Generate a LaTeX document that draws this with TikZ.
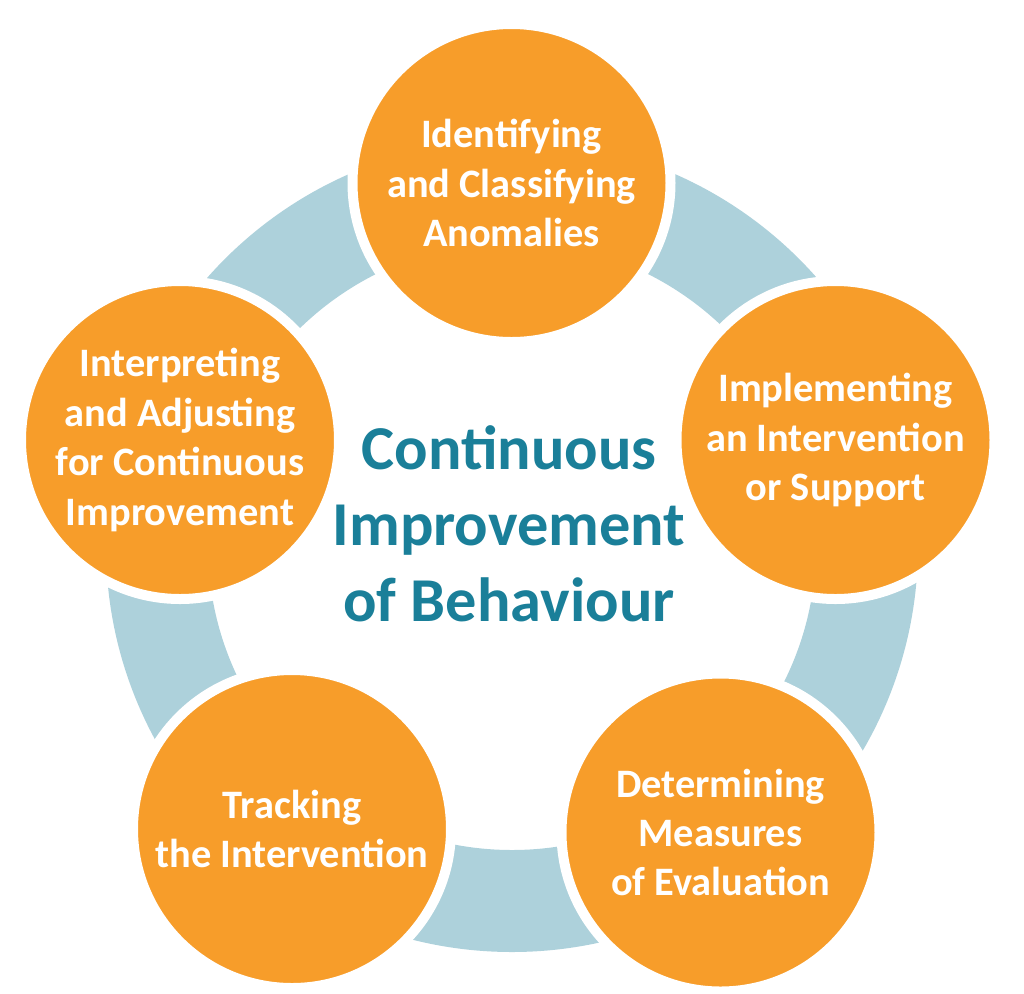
\documentclass[tikz,border=0pt]{standalone}
\usepackage{fontspec}
\setmainfont{Carlito}
\usepackage{tikz}
\definecolor{stageorange}{HTML}{F79D2A}
\definecolor{ringblue}{HTML}{ADD1DB}
\definecolor{titleteal}{HTML}{1A7F99}

\begin{document}
\begin{tikzpicture}[x=0.5pt,y=-0.5pt,
    stage/.style={circle, fill=stageorange, draw=white, line width=5pt, minimum size=159pt, inner sep=0pt},
    stagetext/.style={align=center, text=white, inner sep=0pt, font=\bfseries\fontsize{20.2pt}{24.7pt}\selectfont},
    title/.style={align=center, text=titleteal, inner sep=0pt, font=\bfseries\fontsize{31.2pt}{38pt}\selectfont}]
            \useasboundingbox (0,0) rectangle (1024,993);
            \coordinate (mid) at (512,546);
            \draw[ringblue, line width=51pt] (mid) circle[radius=177.5pt];
            \node[stage] (ident) at (511.5,183) {};
            \node[stage] (impl) at (835.5,440) {};
            \node[stage] (meas) at (720.5,832.5) {};
            \node[stage] (track) at (292,829) {};
            \node[stage] (interp) at (180,440) {};
            \node[stagetext] (ident-t) at (ident) {Identifying\\and Classifying\\Anomalies};
            \node[stagetext] (impl-t) at (impl) {Implementing\\an Intervention\\or Support};
            \node[stagetext] (meas-t) at (meas) {Determining\\Measures\\of Evaluation};
            \node[stagetext] (track-t) at (track) {Tracking\\the Intervention};
            \node[stagetext] (interp-t) at (interp) {Interpreting\\and Adjusting\\for Continuous\\Improvement};
            \node[title] (goal) at (509,524) {Continuous\\Improvement\\of Behaviour};
    \end{tikzpicture}
\end{document}
